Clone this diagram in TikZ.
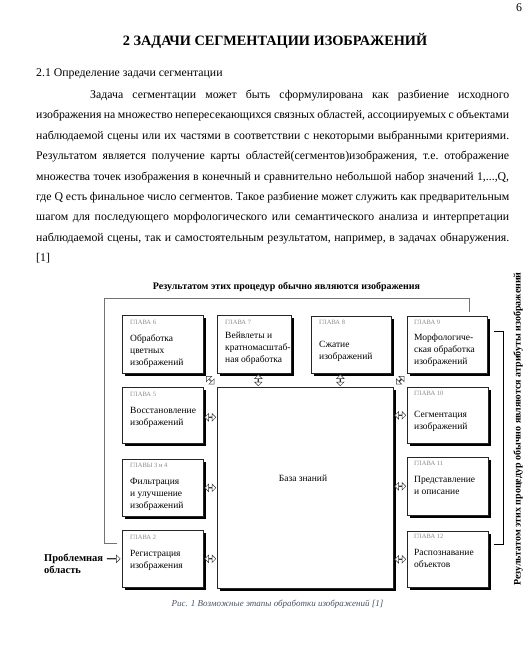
\documentclass[tikz,border=0pt]{standalone}
\usepackage{fontspec}
\setmainfont{Liberation Serif}
\usetikzlibrary{shapes.arrows,shadows,calc}
\definecolor{glgray}{HTML}{8A8A8A}
\definecolor{capcol}{HTML}{44546A}
\newcommand{\bodyfont}{\fontsize{11.8}{14}\selectfont}
\newcommand{\ml}[1]{\begin{tabular}[t]{@{}l@{}}#1\end{tabular}}
\ExplSyntaxOn
\NewDocumentCommand{\jl}{mm}{
  \seq_set_split:Nnn \l_tmpa_seq { ~ } {#2}
  \hbox_to_wd:nn {#1} { \seq_use:Nn \l_tmpa_seq { \hskip 0.25em plus 1fil minus 0.15em } }
}
\ExplSyntaxOff
\begin{document}
\begin{tikzpicture}[x=1pt,y=-1pt,
  every node/.style={inner sep=0pt},
  body/.style={anchor=base west, font=\bodyfont},
  box/.style={draw=black!85, line width=0.6pt, fill=white, anchor=north west, inner sep=0pt,
    drop shadow={fill=black, opacity=1, shadow xshift=2.5pt, shadow yshift=-2.5pt}},
  gl/.style={anchor=base west, font=\fontsize{6.5}{7}\selectfont, text=glgray},
  bt/.style={anchor=base west, font=\fontsize{9.5}{12}\selectfont},
  dbl/.style={double arrow, draw=black!80, fill=white, line width=0.45pt, minimum height=11pt,
    minimum width=7.5pt, double arrow head extend=1.8pt, inner sep=0pt},
  sgl/.style={single arrow, draw=black!80, fill=white, line width=0.45pt, minimum height=13pt,
    minimum width=7.5pt, single arrow head extend=1.8pt, inner sep=0pt},
  frame/.style={draw=black!55, line width=0.7pt},
  bracket/.style={draw=black, line width=0.6pt},
]
\fill[white] (0,0) rectangle (530,672);
\useasboundingbox (0,0) rectangle (530,672);

% page text
\node[anchor=base, font=\bodyfont] (pnum) at (519,11.5) {6};
\node[anchor=base, font=\bfseries\fontsize{14.3}{17}\selectfont] (title) at (275,45) {2 ЗАДАЧИ СЕГМЕНТАЦИИ ИЗОБРАЖЕНИЙ};
\node[body] (h21) at (36,76) {2.1 Определение задачи сегментации};
\node[body] (l1) at (90,98) {\jl{419pt}{Задача сегментации может быть сформулирована как разбиение исходного}};
\node[body] (l2) at (36,118.5) {\jl{473pt}{изображения на множество непересекающихся связных областей, ассоциируемых с объектами}};
\node[body] (l3) at (36,139) {\jl{473pt}{наблюдаемой сцены или их частями в соответствии с некоторыми выбранными критериями.}};
\node[body] (l4) at (36,159.5) {\jl{473pt}{Результатом является получение карты областей(сегментов)изображения, т.е. отображение}};
\node[body] (l5) at (36,180) {\jl{473pt}{множества точек изображения в конечный и сравнительно небольшой набор значений 1,...,Q,}};
\node[body] (l6) at (36,200) {\jl{473pt}{где Q есть финальное число сегментов. Такое разбиение может служить как предварительным}};
\node[body] (l7) at (36,220.5) {\jl{473pt}{шагом для последующего морфологического или семантического анализа и интерпретации}};
\node[body] (l8) at (36,241) {\jl{473pt}{наблюдаемой сцены, так и самостоятельным результатом, например, в задачах обнаружения.}};
\node[body] (l9) at (36,261.5) {[1]};

% diagram labels
\node[anchor=base, font=\bfseries\fontsize{10}{12}\selectfont] (toplab) at (286.5,289.5) {Результатом этих процедур обычно являются изображения};
\node[font=\bfseries\fontsize{10}{12}\selectfont, rotate=90] (sidelab) at (518,429) {Результатом этих процедур обычно являются атрибуты изображений};

% frame and bracket
\coordinate (fs) at (117,543);
\coordinate (fe) at (469,312);
\draw[frame] (fs) -| (104,298) -| (fe);
\coordinate (bs) at (494,331);
\coordinate (be) at (494,544);
\draw[bracket] (bs) -| (503,544) -- (be);

% boxes
\node[box, minimum width=81pt, minimum height=58pt] (g6) at (122,315) {};
\node[box, minimum width=74pt, minimum height=58pt] (g7) at (217,315) {};
\node[box, minimum width=80pt, minimum height=57pt] (g8) at (311,316) {};
\node[box, minimum width=80pt, minimum height=57pt] (g9) at (407,316) {};
\node[box, minimum width=81pt, minimum height=56pt] (g5) at (122,387) {};
\node[box, minimum width=81pt, minimum height=57pt] (g34) at (122,459) {};
\node[box, minimum width=81pt, minimum height=57pt] (g2) at (122,530) {};
\node[box, minimum width=176pt, minimum height=201pt] (kb) at (217,387) {};
\node[box, minimum width=81pt, minimum height=56pt] (g10) at (407,387) {};
\node[box, minimum width=81pt, minimum height=58pt] (g11) at (407,457) {};
\node[box, minimum width=81pt, minimum height=56pt] (g12) at (407,531) {};

% box texts
\node[gl] (g6l) at (130,324) {ГЛАВА 6};
\node[bt] (g6t) at (130,341.5) {\ml{Обработка\\цветных\\изображений}};
\node[gl] (g7l) at (225,324) {ГЛАВА 7};
\node[bt] (g7t) at (225,338.5) {\ml{Вейвлеты и\\кратномасштаб-\\ная обработка}};
\node[gl] (g8l) at (319,324) {ГЛАВА 8};
\node[bt] (g8t) at (319,347.5) {\ml{Сжатие\\изображений}};
\node[gl] (g9l) at (414,324) {ГЛАВА 9};
\node[bt] (g9t) at (414,340.5) {\ml{Морфологиче-\\ская обработка\\изображений}};
\node[gl] (g5l) at (130,396) {ГЛАВА 5};
\node[bt] (g5t) at (130,413.5) {\ml{Восстановление\\изображений}};
\node[gl] (g34l) at (130,467) {ГЛАВЫ 3 и 4};
\node[bt] (g34t) at (130,484.5) {\ml{Фильтрация\\и улучшение\\изображений}};
\node[gl] (g2l) at (130,539) {ГЛАВА 2};
\node[bt] (g2t) at (130,556.5) {\ml{Регистрация\\изображения}};
\node[gl] (g10l) at (414,395) {ГЛАВА 10};
\node[bt] (g10t) at (414,417.5) {\ml{Сегментация\\изображений}};
\node[gl] (g11l) at (414,465) {ГЛАВА 11};
\node[bt] (g11t) at (414,482.5) {\ml{Представление\\и описание}};
\node[gl] (g12l) at (414,538) {ГЛАВА 12};
\node[bt] (g12t) at (414,555.5) {\ml{Распознавание\\объектов}};
\node[anchor=base, font=\fontsize{9.5}{12}\selectfont] (kbt) at (303,481.5) {База знаний};

\node[anchor=base west, font=\bfseries\fontsize{10.5}{12}\selectfont] (prob) at (44,561.5) {\ml{Проблемная\\область}};

% arrows
\node[dbl, rotate=-45] (a6) at ($(g6.south east)!.5!(kb.north west)$) {};
\node[dbl, rotate=90] (a7) at ($(g7.south)!.5!(g7.south|-kb.north)+(4,0)$) {};
\node[dbl, rotate=90] (a8) at ($(g8.south)!.5!(g8.south|-kb.north)+(-11,0)$) {};
\node[dbl, rotate=45] (a9) at ($(g9.south west)!.5!(kb.north east)$) {};
\node[dbl] (a5) at ($(g5.east)!.5!(kb.west|-g5.east)+(0,2)$) {};
\node[dbl] (a34) at ($(g34.east)!.5!(kb.west|-g34.east)$) {};
\node[dbl] (a2) at ($(g2.east)!.5!(kb.west|-g2.east)$) {};
\node[dbl] (a10) at ($(g10.west)!.5!(kb.east|-g10.west)$) {};
\node[dbl] (a11) at ($(g11.west)!.5!(kb.east|-g11.west)$) {};
\node[dbl] (a12) at ($(g12.west)!.5!(kb.east|-g12.west)$) {};
\node[sgl] (ap) at ($(g2.west)+(-8.5,0)$) {};

% caption
\node[anchor=base, font=\itshape\fontsize{9}{11}\selectfont, text=capcol] (cap) at (277.5,606) {Рис. 1 Возможные этапы обработки изображений [1]};
\end{tikzpicture}
\end{document}
